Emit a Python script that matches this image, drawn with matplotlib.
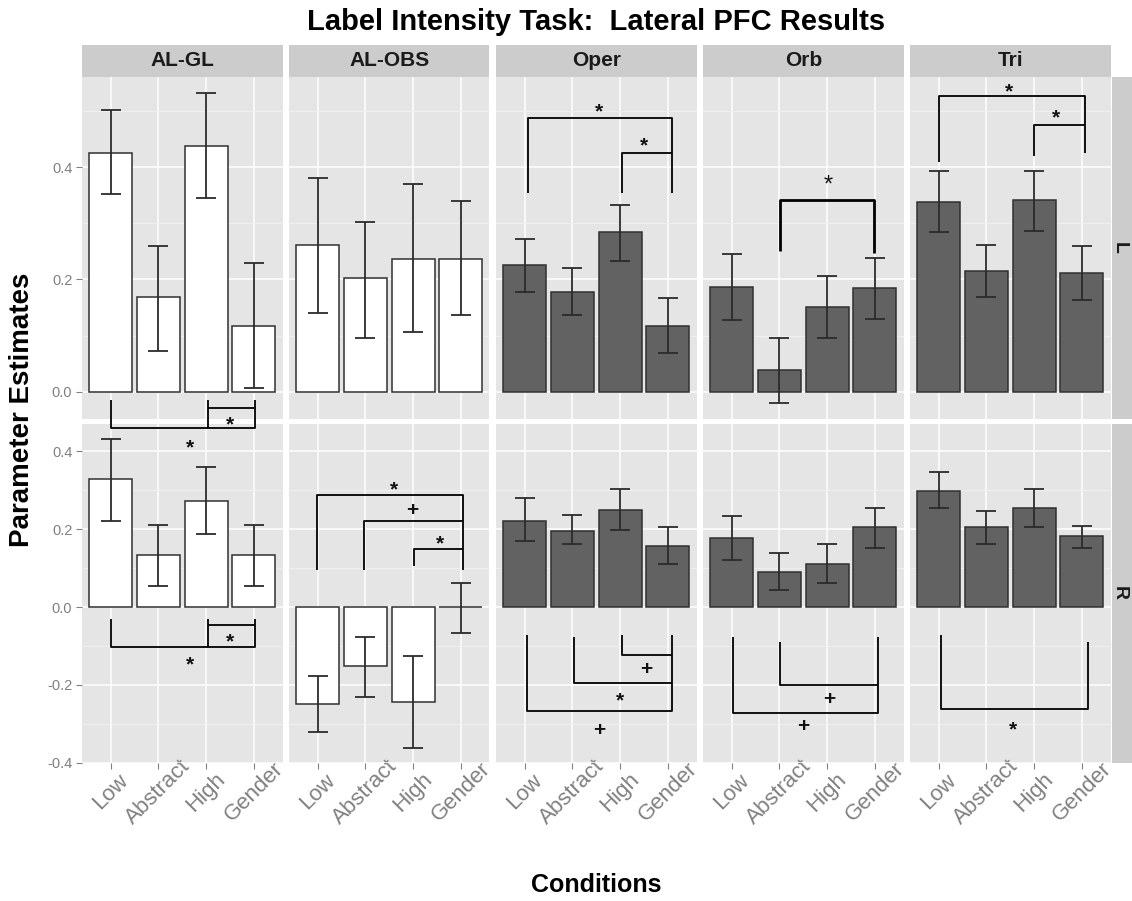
import matplotlib.pyplot as plt
from matplotlib.ticker import FixedLocator

plt.rcParams["font.family"] = ["Liberation Sans", "DejaVu Sans"]

regions = ["AL-GL", "AL-OBS", "Oper", "Orb", "Tri"]
conditions = ["Low", "Abstract", "High", "Gender"]
hemispheres = ["L", "R"]

# left hemisphere: bar heights and error bar limits, one list per region
l_mean = [[0.426, 0.168, 0.438, 0.117],
          [0.262, 0.202, 0.237, 0.237],
          [0.225, 0.177, 0.284, 0.117],
          [0.186, 0.038, 0.151, 0.184],
          [0.338, 0.215, 0.341, 0.212]]
l_low = [[0.352, 0.072, 0.346, 0.007],
         [0.140, 0.096, 0.106, 0.136],
         [0.177, 0.136, 0.233, 0.069],
         [0.127, -0.020, 0.096, 0.130],
         [0.284, 0.168, 0.287, 0.164]]
l_high = [[0.502, 0.259, 0.533, 0.230],
          [0.380, 0.303, 0.370, 0.340],
          [0.272, 0.221, 0.333, 0.167],
          [0.246, 0.096, 0.206, 0.238],
          [0.394, 0.262, 0.394, 0.259]]

# right hemisphere
r_mean = [[0.329, 0.133, 0.273, 0.133],
          [-0.250, -0.151, -0.244, 0.0],
          [0.222, 0.196, 0.249, 0.156],
          [0.178, 0.090, 0.111, 0.206],
          [0.299, 0.205, 0.255, 0.182]]
r_low = [[0.221, 0.054, 0.189, 0.054],
         [-0.321, -0.231, -0.361, -0.067],
         [0.171, 0.161, 0.198, 0.110],
         [0.122, 0.043, 0.062, 0.152],
         [0.255, 0.163, 0.205, 0.152]]
r_high = [[0.432, 0.212, 0.360, 0.212],
          [-0.176, -0.077, -0.127, 0.062],
          [0.281, 0.236, 0.304, 0.205],
          [0.235, 0.140, 0.163, 0.255],
          [0.346, 0.247, 0.304, 0.209]]

# significance brackets (condition position, estimate) and their marks
l_brackets = {
    "AL-GL": [([1.0, 1.0, 4.02, 4.02], [-0.014, -0.065, -0.065, -0.014]),
              ([3.03, 3.03], [-0.014, -0.065]),
              ([3.03, 4.02], [-0.029, -0.029])],
    "Oper": [([1.07, 1.07, 4.08, 4.08], [0.354, 0.487, 0.487, 0.354]),
             ([3.03, 3.03, 4.08], [0.354, 0.425, 0.425])],
    "Orb": [([2.02, 2.02, 3.98, 3.98], [0.251, 0.342, 0.342, 0.247])],
    "Tri": [([1.01, 1.01, 4.06, 4.06], [0.409, 0.526, 0.526, 0.426]),
            ([3.0, 3.0, 4.06], [0.420, 0.475, 0.475])],
}
l_marks = {
    "AL-GL": [(3.5, -0.047, "*"), (2.67, -0.088, "*")],
    "Oper": [(2.55, 0.511, "*"), (3.51, 0.450, "*")],
    "Orb": [(3.03, 0.381, "*")],
    "Tri": [(2.48, 0.547, "*"), (3.45, 0.501, "*")],
}
r_brackets = {
    "AL-GL": [([1.0, 1.0, 4.02, 4.02], [-0.030, -0.102, -0.102, -0.030]),
              ([3.03, 3.03], [-0.030, -0.102]),
              ([3.03, 4.02], [-0.046, -0.046])],
    "AL-OBS": [([0.98, 0.98, 4.05, 4.05], [0.096, 0.288, 0.288, 0.096]),
               ([1.97, 1.97, 4.05], [0.096, 0.221, 0.221]),
               ([3.01, 3.01, 4.05], [0.105, 0.149, 0.149])],
    "Oper": [([1.05, 1.05, 4.08, 4.08], [-0.073, -0.267, -0.267, -0.073]),
             ([2.04, 2.04, 4.08], [-0.077, -0.196, -0.196]),
             ([3.03, 3.03, 4.08], [-0.073, -0.123, -0.123])],
    "Orb": [([1.03, 1.03, 4.06, 4.06], [-0.077, -0.273, -0.273, -0.077]),
            ([2.02, 2.02, 4.06], [-0.089, -0.200, -0.200])],
    "Tri": [([1.05, 1.05, 4.13, 4.13], [-0.071, -0.261, -0.261, -0.089])],
}
r_marks = {
    "AL-GL": [(3.5, -0.071, "*"), (2.67, -0.131, "*")],
    "AL-OBS": [(2.59, 0.318, "*"), (2.99, 0.254, "+"), (3.57, 0.181, "*")],
    "Oper": [(3.54, -0.155, "+"), (3.0, -0.224, "*"), (2.57, -0.312, "+")],
    "Orb": [(3.04, -0.232, "+"), (2.5, -0.301, "+")],
    "Tri": [(2.55, -0.297, "*")],
}

fills = ["white", "white", "#626262", "#626262", "#626262"]

W, H = 1132, 901
PANEL = "#E5E5E5"
STRIP = "#CCCCCC"
GREY = "#808080"


def box(x0, y0, x1, y1):
    # pixel box (top-left origin) -> figure fraction rect
    return [x0 / W, 1 - y1 / H, (x1 - x0) / W, (y1 - y0) / H]


def padded(lows, highs):
    lo = min(0, min(min(r) for r in lows))
    hi = max(0, max(max(r) for r in highs))
    span = hi - lo
    return lo - 0.05 * span, hi + 0.05 * span


def sig_mark(ax, x, y, s, heavy=False):
    size = 17 if heavy else 15
    # shift baseline so the glyph centre sits on (x, y)
    off = 0.60 * size if s == "*" else 0.36 * size
    ax.annotate(s, (x, y), xytext=(0, -off), textcoords="offset points",
                ha="center", va="baseline", fontsize=size,
                fontweight="normal" if heavy else "bold",
                color="#111111", annotation_clip=False, zorder=6)


fig = plt.figure(figsize=(W / 100, H / 100), dpi=100)

col_left = [82 + i * 207 for i in range(5)]
col_w = 200.5
row_top = [77, 423.5]
row_bot = [418.5, 763]

rows = [(l_mean, l_low, l_high, l_brackets, l_marks),
        (r_mean, r_low, r_high, r_brackets, r_marks)]
xpos = [1, 2, 3, 4]

for ri, (means, lows, highs, brackets, marks) in enumerate(rows):
    ylim = padded(lows, highs)
    if ri == 0:
        major = [0.0, 0.2, 0.4]
        minor = [0.1, 0.3, 0.5]
    else:
        major = [-0.4, -0.2, 0.0, 0.2, 0.4]
        minor = [-0.3, -0.1, 0.1, 0.3]
    for ci, region in enumerate(regions):
        ax = fig.add_axes(box(col_left[ci], row_top[ri],
                              col_left[ci] + col_w, row_bot[ri]))
        ax.set_zorder(3 - ri)
        ax.set_facecolor(PANEL)
        for sp in ax.spines.values():
            sp.set_visible(False)
        ax.set_xlim(0.4, 4.6)
        ax.set_ylim(*ylim)
        ax.yaxis.set_major_locator(FixedLocator(major))
        ax.yaxis.set_minor_locator(FixedLocator(minor))
        ax.set_xticks(xpos)
        ax.grid(True, which="major", color="white", lw=1.1, zorder=0)
        ax.grid(True, which="minor", axis="y", color="#F2F2F2", lw=0.6, zorder=0)
        ax.set_axisbelow(True)
        ax.tick_params(axis="y", which="minor", length=0)
        ax.tick_params(axis="both", which="major", color=GREY, length=4,
                       width=0.8, labelcolor=GREY)
        if ci == 0:
            ax.set_yticklabels([f"{v:.1f}" for v in major], fontsize=10.5)
            ax.tick_params(axis="y", pad=3)
        else:
            ax.tick_params(axis="y", length=0, labelleft=False)
        if ri == 1:
            ax.set_xticklabels(conditions, fontsize=16, rotation=45,
                               ha="center", va="center", rotation_mode="anchor")
            ax.tick_params(axis="x", pad=17)
        else:
            ax.tick_params(axis="x", length=0, labelbottom=False)

        m = means[ci]
        ax.bar(xpos, m, width=0.9, color=fills[ci], edgecolor="#303030",
               linewidth=1.1, zorder=2)
        err = [[a - b for a, b in zip(m, lows[ci])],
               [b - a for a, b in zip(m, highs[ci])]]
        ax.errorbar(xpos, m, yerr=err, fmt="none", ecolor="#2b2b2b",
                    elinewidth=1.3, capsize=7, capthick=1.3, zorder=3)

        heavy = (ri == 0 and region == "Orb")
        for bx, by in brackets.get(region, []):
            ax.plot(bx, by, color="black", lw=2.0 if heavy else 1.3,
                    solid_capstyle="butt", clip_on=False, zorder=5)
        for mx, my, s in marks.get(region, []):
            sig_mark(ax, mx, my, s, heavy=heavy)

        if ri == 0:
            sax = fig.add_axes(box(col_left[ci], 45, col_left[ci] + col_w, 77))
            sax.set_facecolor(STRIP)
            sax.set_xticks([])
            sax.set_yticks([])
            for sp in sax.spines.values():
                sp.set_visible(False)
            sax.text(0.5, 0.5, region, ha="center", va="center",
                     fontsize=15, fontweight="bold", color="#1A1A1A",
                     transform=sax.transAxes)

    rax = fig.add_axes(box(1112, row_top[ri], 1145, row_bot[ri]))
    rax.set_facecolor(STRIP)
    rax.set_xticks([])
    rax.set_yticks([])
    for sp in rax.spines.values():
        sp.set_visible(False)
    fig.text(1119 / W, 1 - (row_top[ri] + row_bot[ri]) / 2 / H, hemispheres[ri],
             rotation=-90, ha="center", va="center", fontsize=14,
             fontweight="bold", color="#1A1A1A")

fig.text(596 / W, 1 - 22 / H, "Label Intensity Task:  Lateral PFC Results",
         ha="center", va="center", fontsize=21, fontweight="bold")
fig.text(22 / W, 1 - 410 / H, "Parameter Estimates", rotation=90,
         ha="center", va="center", fontsize=20, fontweight="bold")
fig.text(596 / W, 1 - 885 / H, "Conditions", ha="center", va="center",
         fontsize=18, fontweight="bold")

fig.savefig("out.png", dpi=100, facecolor="white")
